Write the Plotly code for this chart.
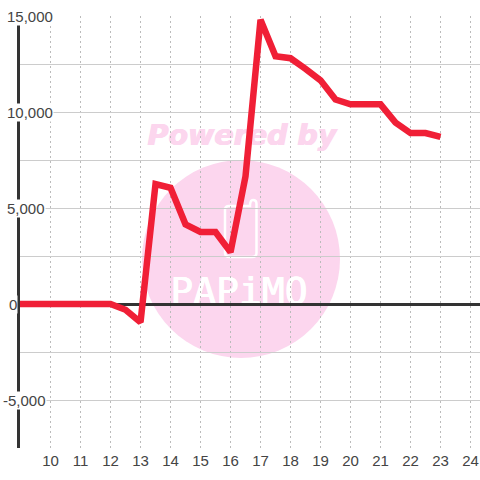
import plotly.graph_objects as go

hours = [8.9, 9.5, 10, 10.5, 11, 11.5, 12, 12.5, 13, 13.5, 14, 14.5, 15, 15.5, 16, 16.5, 17, 17.5, 18, 18.5, 19, 19.5, 20, 20.5, 21, 21.5, 22, 22.5, 23]
values = [0, 0, 0, 0, 0, 0, 0, -300, -950, 6250, 6050, 4150, 3750, 3750, 2700, 6650, 14800, 12900, 12800, 12250, 11650, 10650, 10400, 10400, 10400, 9450, 8900, 8900, 8700]
x_ticks = list(range(10, 25))
y_labels = [15000, 10000, 5000, 0, -5000]

DARK = "#333333"
TEXT = "#444444"
PINK = "#fcd6ee"
W = H = 480
L, T, B = 20, 16, 32
PW, PH = W - L, H - T - B

def px(x): return (x - L) / PW
def py(y): return (H - B - y) / PH

fig = go.Figure()
fig.add_trace(go.Scatter(x=hours, y=values, mode="lines", cliponaxis=False,
                         line=dict(color="#f01f36", width=6.5), hoverinfo="skip"))

fig.update_layout(
    width=W, height=H, autosize=False,
    margin=dict(l=L, r=0, t=T, b=B, pad=0),
    paper_bgcolor="white", plot_bgcolor="white", showlegend=False,
    font=dict(family="Liberation Sans, Arial, sans-serif", size=15, color=TEXT),
    xaxis=dict(range=[8.983, 24.316], tickmode="array", tickvals=x_ticks,
               ticktext=[str(t) for t in x_ticks], showgrid=True, gridcolor="#bbbbbb",
               griddash="2px,3px", gridwidth=1, zeroline=False, showline=False,
               ticks="", ticklabelstandoff=2, tickfont=dict(size=15, color=TEXT)),
    yaxis=dict(range=[-7500, 15000], dtick=2500, tick0=0, showgrid=True, gridcolor="#cccccc",
               gridwidth=1, zeroline=True, zerolinecolor=DARK, zerolinewidth=3,
               showline=True, linecolor=DARK, linewidth=3, showticklabels=False, ticks=""),
)

fig.add_shape(type="circle", xref="paper", yref="paper", layer="below",
              x0=px(142), x1=px(340), y0=py(358), y1=py(160),
              fillcolor=PINK, line_width=0)

def P(x, y): return f"{px(x):.5f} {py(y):.5f}"
phone = (f"M {P(225, 210)} Q {P(225, 206)} {P(229, 206)} L {P(250, 206)} "
         f"Q {P(250, 200)} {P(253, 200)} Q {P(256.5, 200)} {P(256.5, 204)} L {P(256.5, 253)} "
         f"Q {P(256.5, 257)} {P(252, 257)} L {P(230, 257)} Q {P(225, 257)} {P(225, 253)} Z")
fig.add_shape(type="path", xref="paper", yref="paper", layer="below", path=phone,
              fillcolor="rgba(0,0,0,0)", line=dict(color="white", width=2.5))

fig.add_shape(type="rect", xref="paper", yref="paper", layer="below",
              x0=px(142), x1=px(342), y0=py(150), y1=py(116), line_width=0,
              fillcolor="rgba(0,0,0,0)",
              label=dict(text="<b><i>Powered by</i></b>", textposition="middle center",
                         font=dict(family="DejaVu Sans", size=28.5, color=PINK,
                                   shadow=f"0.6px 0 {PINK}, -0.6px 0 {PINK}")))
fig.add_shape(type="rect", xref="paper", yref="paper", layer="below",
              x0=px(139), x1=px(339), y0=py(309), y1=py(267), line_width=0,
              fillcolor="rgba(0,0,0,0)",
              label=dict(text="PAPiMO", textposition="middle center",
                         font=dict(family="DejaVu Sans Mono", size=38, color="white",
                                   shadow="0.4px 0 white, -0.4px 0 white")))

for v in y_labels:
    left = 2 if v < 0 else 8 if v == 0 else 6
    fig.add_annotation(x=px(left), xanchor="left", xref="paper", y=v, yref="y", yanchor="middle",
                       text=f"{v:,}", showarrow=False, bgcolor="white", borderpad=0,
                       font=dict(size=15, color=TEXT), align="left")

fig.write_html("out.html", config={"displayModeBar": False},
               post_script="document.body.style.margin='0';")
